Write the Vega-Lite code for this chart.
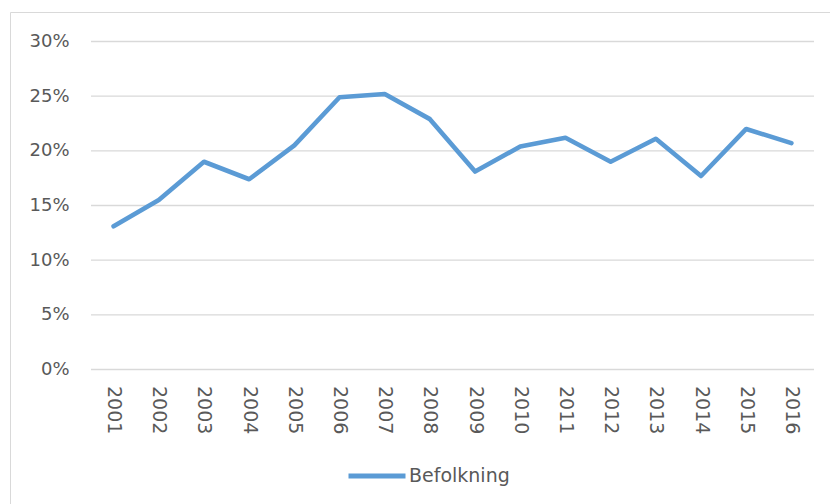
{
  "$schema": "https://vega.github.io/schema/vega-lite/v6.json",
  "autosize": "none",
  "width": 820,
  "height": 492,
  "padding": {"left": 10, "top": 12, "right": 0, "bottom": 0},
  "background": "white",
  "config": {
    "view": {"stroke": "#d9d9d9", "strokeWidth": 1, "fill": "white"},
    "font": "DejaVu Sans"
  },
  "datasets": {
    "series": [
      {"year": 2001, "value": 0.131, "serie": "Befolkning"},
      {"year": 2002, "value": 0.155, "serie": "Befolkning"},
      {"year": 2003, "value": 0.190, "serie": "Befolkning"},
      {"year": 2004, "value": 0.174, "serie": "Befolkning"},
      {"year": 2005, "value": 0.205, "serie": "Befolkning"},
      {"year": 2006, "value": 0.249, "serie": "Befolkning"},
      {"year": 2007, "value": 0.252, "serie": "Befolkning"},
      {"year": 2008, "value": 0.229, "serie": "Befolkning"},
      {"year": 2009, "value": 0.181, "serie": "Befolkning"},
      {"year": 2010, "value": 0.204, "serie": "Befolkning"},
      {"year": 2011, "value": 0.212, "serie": "Befolkning"},
      {"year": 2012, "value": 0.190, "serie": "Befolkning"},
      {"year": 2013, "value": 0.211, "serie": "Befolkning"},
      {"year": 2014, "value": 0.177, "serie": "Befolkning"},
      {"year": 2015, "value": 0.220, "serie": "Befolkning"},
      {"year": 2016, "value": 0.207, "serie": "Befolkning"}
    ],
    "grid": [
      {"level": 0}, {"level": 0.05}, {"level": 0.1}, {"level": 0.15},
      {"level": 0.2}, {"level": 0.25}, {"level": 0.3}
    ]
  },
  "layer": [
    {
      "data": {"name": "grid"},
      "mark": {"type": "rule", "color": "#d9d9d9", "strokeWidth": 1.3},
      "encoding": {
        "y": {"field": "level", "type": "quantitative", "scale": {"domain": [0, 0.3], "range": [357.5, 29.5], "nice": false, "zero": false},
          "axis": {"values": [0, 0.05, 0.1, 0.15, 0.2, 0.25, 0.3], "format": ".0%", "title": null, "grid": false, "domain": false, "ticks": false, "offset": -60, "labelPadding": 1, "labelFontSize": 18, "labelColor": "#595959", "labelFont": "DejaVu Sans"}},
        "x": {"datum": 2000.5, "type": "quantitative", "scale": {"domain": [2000.5, 2016.5], "range": [81, 804], "nice": false, "zero": false}},
        "x2": {"datum": 2016.5}
      }
    },
    {
      "data": {"name": "series"},
      "mark": {"type": "line", "strokeWidth": 4.6, "strokeCap": "round", "strokeJoin": "round"},
      "encoding": {
        "x": {"field": "year", "type": "quantitative",
          "axis": {"values": [2001,2002,2003,2004,2005,2006,2007,2008,2009,2010,2011,2012,2013,2014,2015,2016], "format": "d", "title": null, "grid": false, "domain": false, "ticks": false, "labelAngle": 90, "labelAlign": "left", "labelBaseline": "middle", "labelPadding": 16, "offset": -134.5, "labelFontSize": 19, "labelColor": "#595959", "labelFont": "DejaVu Sans", "labelFlush": false, "labelOverlap": false}},
        "y": {"field": "value", "type": "quantitative"},
        "color": {"field": "serie", "type": "nominal", "scale": {"range": ["#5b9bd5"]},
          "legend": {"title": null, "orient": "none", "legendX": 336, "legendY": 433, "symbolType": "stroke", "symbolSize": 3249, "symbolStrokeWidth": 5, "labelFontSize": 19, "labelColor": "#595959", "labelFont": "DejaVu Sans", "labelOffset": 1, "padding": 0}}
      }
    }
  ]
}
